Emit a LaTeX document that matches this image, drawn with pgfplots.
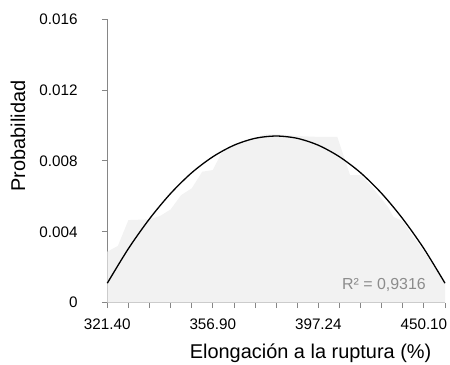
\documentclass[border=0pt]{standalone}
\usepackage{pgfplots}
\pgfplotsset{compat=1.18}
\usepackage{fontspec}
\setmainfont{Liberation Sans}
\definecolor{axgray}{HTML}{868686}
\definecolor{areagray}{HTML}{F2F2F2}
\definecolor{rgray}{HTML}{8C8C8C}
\begin{document}
\begin{tikzpicture}
\begin{axis}[
  scale only axis,
  width=337.7bp, height=283.7bp,
  xmin=0, xmax=16, ymin=0, ymax=0.016,
  axis lines*=left,
  axis line style={axgray, line width=0.8bp},
  tick style={axgray, line width=0.8bp},
  tick align=outside,
  major tick length=5.5bp,
  xtick={0,1,...,16},
  xticklabels={321.40,,,,,356.90,,,,,397.24,,,,,450.10,},
  ytick={0,0.004,0.008,0.012,0.016},
  yticklabels={0,0.004,0.008,0.012,0.016},
  scaled y ticks=false,
  tick label style={font=\fontsize{15.3}{18}\selectfont, text=black},
  /pgf/number format/assume math mode=true,
  xticklabel style={anchor=base, inner sep=0pt, yshift=-20.8bp},
  yticklabel style={anchor=east, inner sep=0pt, xshift=-24bp},
  clip=false,
]
\addplot[fill=areagray, draw=none] coordinates {
(0,0.00288) (0.5,0.0032) (1,0.00466) (2,0.0047) (2.5,0.00489) (3,0.00526)
(3.5,0.00607) (4,0.00645) (4.5,0.00739) (5,0.00748) (5.4,0.00843) (6,0.0089)
(7,0.0093) (7.5,0.0095) (8,0.0095) (9,0.0094) (10,0.00935) (10.9,0.00935)
(11.5,0.0072) (12,0.0072) (12.5,0.0066) (13.3,0.0054) (13.55,0.00485)
(14,0.0046) (14.5,0.0037) (15,0.0029) (15.5,0.0020) (16,0.0011)
} \closedcycle;
\addplot[black, line width=1.3bp, smooth] coordinates {
(0,0.00110) (1,0.00305) (2,0.00473) (3,0.00616) (4,0.00733) (5,0.00823)
(6,0.00888) (7,0.00927) (8,0.00940) (9,0.00927) (10,0.00888) (11,0.00823)
(12,0.00733) (13,0.00616) (14,0.00473) (15,0.00305) (16,0.00110)
};
\node[anchor=base east, text=rgray, font=\fontsize{16}{19}\selectfont, inner sep=0pt]
  at (rel axis cs:0.9437,0.0472) {R² = 0,9316};
\node[anchor=base, font=\fontsize{20}{24}\selectfont, inner sep=0pt]
  at (rel axis cs:0.602,-0.1952) {Elongación a la ruptura (\%)};
\node[anchor=base, rotate=90, font=\fontsize{20}{24}\selectfont, inner sep=0pt]
  at (rel axis cs:-0.2437,0.5876) {Probabilidad};
\coordinate (ll) at (rel axis cs:0,0);
\coordinate (ur) at (rel axis cs:1,1);
\end{axis}
\pgfresetboundingbox
\path[use as bounding box] (ll) ++(-107.3bp,-62.3bp) rectangle (ur) ++(5bp,19bp);
\end{tikzpicture}
\end{document}
